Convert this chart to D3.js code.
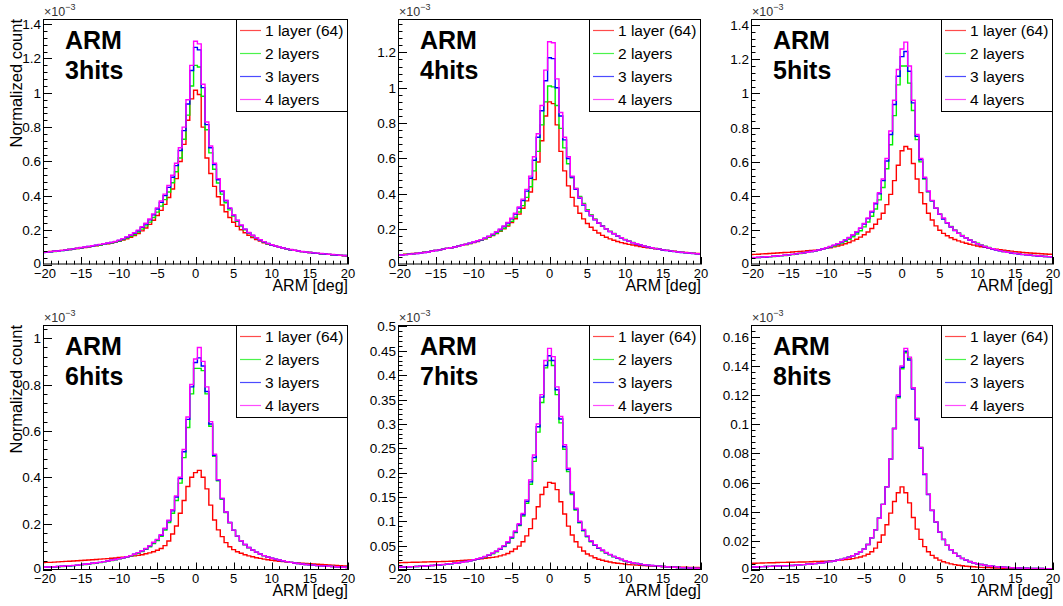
<!DOCTYPE html>
<html><head><meta charset="utf-8">
<script src="https://cdn.jsdelivr.net/npm/d3@7"></script>
<style>
body{margin:0;background:#fff}
svg{display:block}
text{font-family:"Liberation Sans",Arial,Helvetica,sans-serif}
</style></head>
<body><svg id="chart" width="1063" height="606"></svg>
<script>
// ---------- data (values in units of 1e-3, bin centres -20 ... 20, step 0.5) ----------
const binStart = -20, binStep = 0.5, binCount = 81;
const seriesNames = ["1 layer (64)", "2 layers", "3 layers", "4 layers"];
const panelLabels = ["3hits","4hits","5hits","6hits","7hits","8hits"];
const xTicks = [-20,-15,-10,-5,0,5,10,15,20];
const xTickLabels = ["\u221220","\u221215","\u221210","\u22125","0","5","10","15","20"];

const h3_l1 = [0.072,0.074,0.076,0.078,0.080,0.082,0.085,0.087,0.090,0.093,0.096,
0.099,0.102,0.106,0.109,0.113,0.117,0.121,0.125,0.130,0.135,
0.142,0.150,0.159,0.169,0.181,0.196,0.213,0.234,0.258,0.285,
0.315,0.350,0.390,0.440,0.500,0.600,0.700,0.840,0.965,1.015,
0.990,0.800,0.620,0.530,0.455,0.395,0.347,0.307,0.274,0.246,
0.222,0.202,0.185,0.170,0.157,0.146,0.136,0.127,0.119,0.112,
0.106,0.100,0.095,0.090,0.086,0.082,0.078,0.075,0.072,0.070,
0.067,0.065,0.063,0.061,0.059,0.057,0.055,0.053,0.051,0.049];
const h3_l2 = [0.071,0.072,0.074,0.076,0.078,0.081,0.084,0.087,0.090,0.093,0.097,
0.100,0.103,0.107,0.110,0.114,0.118,0.122,0.126,0.131,0.137,
0.145,0.154,0.164,0.175,0.189,0.206,0.225,0.247,0.274,0.305,
0.340,0.378,0.422,0.476,0.540,0.620,0.730,0.870,1.040,1.160,
1.150,0.980,0.785,0.650,0.555,0.475,0.410,0.360,0.318,0.282,
0.251,0.224,0.202,0.183,0.167,0.153,0.141,0.131,0.121,0.113,
0.106,0.100,0.095,0.090,0.086,0.082,0.078,0.075,0.072,0.070,
0.067,0.065,0.063,0.061,0.059,0.057,0.055,0.054,0.052,0.050];
const h3_l3 = [0.070,0.072,0.074,0.077,0.079,0.081,0.084,0.087,0.091,0.094,0.098,
0.101,0.105,0.108,0.112,0.116,0.120,0.124,0.128,0.133,0.140,
0.149,0.159,0.170,0.182,0.197,0.216,0.236,0.260,0.289,0.323,
0.362,0.401,0.449,0.508,0.576,0.664,0.780,0.935,1.130,1.265,
1.250,1.030,0.815,0.680,0.582,0.494,0.425,0.371,0.327,0.288,
0.256,0.228,0.205,0.185,0.169,0.155,0.143,0.132,0.122,0.114,
0.107,0.101,0.096,0.091,0.086,0.082,0.079,0.075,0.072,0.070,
0.067,0.065,0.063,0.061,0.059,0.057,0.055,0.053,0.052,0.050];
const h3_l4 = [0.071,0.073,0.075,0.077,0.079,0.082,0.085,0.088,0.091,0.095,0.099,
0.102,0.105,0.109,0.113,0.117,0.121,0.125,0.129,0.134,0.142,
0.151,0.161,0.172,0.185,0.200,0.220,0.240,0.265,0.295,0.330,
0.370,0.410,0.460,0.520,0.590,0.680,0.800,0.960,1.160,1.300,
1.285,1.050,0.830,0.690,0.590,0.500,0.430,0.375,0.330,0.290,
0.258,0.230,0.206,0.186,0.170,0.156,0.144,0.133,0.123,0.115,
0.108,0.102,0.096,0.091,0.087,0.083,0.079,0.076,0.073,0.070,
0.068,0.066,0.064,0.062,0.060,0.058,0.056,0.054,0.052,0.050];

const h4_l1 = [0.054,0.056,0.058,0.060,0.062,0.064,0.067,0.070,0.073,0.076,0.080,
0.083,0.087,0.091,0.095,0.099,0.103,0.108,0.113,0.118,0.124,
0.130,0.137,0.145,0.154,0.164,0.175,0.188,0.202,0.218,0.237,
0.259,0.285,0.318,0.360,0.410,0.480,0.580,0.700,0.840,0.920,
0.910,0.790,0.640,0.530,0.445,0.380,0.330,0.290,0.258,0.232,
0.211,0.193,0.178,0.165,0.154,0.145,0.137,0.130,0.124,0.119,
0.114,0.110,0.106,0.102,0.098,0.095,0.092,0.089,0.086,0.083,
0.080,0.077,0.075,0.072,0.070,0.068,0.066,0.064,0.062,0.060];
const h4_l2 = [0.053,0.055,0.057,0.059,0.061,0.063,0.066,0.069,0.072,0.075,0.079,
0.083,0.087,0.091,0.095,0.099,0.103,0.108,0.113,0.119,0.125,
0.131,0.138,0.146,0.155,0.165,0.177,0.190,0.205,0.223,0.244,
0.268,0.297,0.333,0.380,0.440,0.530,0.640,0.790,0.920,1.010,
1.005,0.900,0.770,0.660,0.570,0.490,0.430,0.385,0.345,0.310,
0.282,0.258,0.237,0.219,0.203,0.188,0.175,0.163,0.152,0.142,
0.133,0.125,0.118,0.111,0.105,0.100,0.095,0.091,0.087,0.083,
0.080,0.077,0.074,0.071,0.069,0.067,0.065,0.063,0.061,0.060];
const h4_l3 = [0.052,0.054,0.056,0.058,0.060,0.062,0.065,0.068,0.071,0.075,0.079,
0.083,0.087,0.091,0.095,0.099,0.104,0.109,0.114,0.120,0.126,
0.133,0.140,0.149,0.159,0.170,0.183,0.198,0.215,0.235,0.258,
0.286,0.320,0.362,0.415,0.488,0.590,0.720,0.870,1.040,1.170,
1.165,1.000,0.840,0.705,0.600,0.495,0.425,0.376,0.337,0.302,
0.276,0.253,0.233,0.216,0.200,0.186,0.173,0.161,0.150,0.140,
0.131,0.123,0.116,0.110,0.104,0.099,0.094,0.090,0.086,0.082,
0.079,0.076,0.073,0.071,0.068,0.066,0.064,0.062,0.060,0.058];
const h4_l4 = [0.052,0.054,0.056,0.058,0.060,0.062,0.065,0.068,0.071,0.075,0.079,
0.083,0.087,0.091,0.095,0.099,0.104,0.109,0.115,0.121,0.127,
0.134,0.141,0.150,0.160,0.172,0.185,0.200,0.218,0.238,0.262,
0.290,0.325,0.370,0.425,0.500,0.610,0.740,0.900,1.100,1.260,
1.255,1.050,0.860,0.720,0.610,0.500,0.430,0.380,0.340,0.305,
0.278,0.255,0.235,0.217,0.201,0.187,0.174,0.162,0.151,0.141,
0.132,0.124,0.117,0.111,0.105,0.100,0.095,0.091,0.087,0.083,
0.080,0.077,0.074,0.071,0.069,0.067,0.065,0.063,0.061,0.059];

const h5_l1 = [0.058,0.059,0.060,0.062,0.063,0.064,0.066,0.067,0.069,0.070,0.071,
0.073,0.075,0.076,0.078,0.080,0.082,0.084,0.087,0.090,0.094,
0.098,0.103,0.108,0.114,0.121,0.129,0.138,0.148,0.160,0.174,
0.190,0.210,0.235,0.265,0.300,0.350,0.410,0.490,0.580,0.665,
0.690,0.675,0.590,0.500,0.420,0.355,0.300,0.260,0.226,0.200,
0.182,0.168,0.156,0.146,0.138,0.131,0.124,0.118,0.113,0.108,
0.104,0.100,0.096,0.092,0.089,0.086,0.083,0.080,0.078,0.075,
0.073,0.071,0.069,0.067,0.066,0.064,0.063,0.061,0.060,0.059];
const h5_l2 = [0.039,0.040,0.041,0.042,0.044,0.045,0.047,0.049,0.051,0.053,0.055,
0.058,0.061,0.064,0.067,0.071,0.075,0.079,0.084,0.089,0.095,
0.101,0.108,0.116,0.125,0.136,0.148,0.162,0.178,0.197,0.220,
0.248,0.282,0.324,0.378,0.450,0.560,0.700,0.870,1.050,1.160,
1.160,1.060,0.900,0.730,0.600,0.500,0.425,0.372,0.330,0.296,
0.268,0.244,0.222,0.202,0.185,0.170,0.157,0.145,0.134,0.124,
0.115,0.107,0.099,0.093,0.087,0.081,0.076,0.072,0.068,0.065,
0.062,0.059,0.057,0.055,0.053,0.051,0.049,0.047,0.046,0.044];
const h5_l3 = [0.039,0.040,0.041,0.043,0.044,0.046,0.048,0.050,0.052,0.054,0.056,
0.059,0.062,0.065,0.068,0.072,0.076,0.080,0.085,0.091,0.097,
0.104,0.112,0.121,0.131,0.143,0.156,0.172,0.190,0.211,0.237,
0.268,0.307,0.355,0.413,0.490,0.605,0.760,0.935,1.100,1.215,
1.245,1.130,0.945,0.750,0.612,0.505,0.427,0.372,0.328,0.293,
0.266,0.242,0.219,0.199,0.182,0.167,0.154,0.142,0.131,0.121,
0.112,0.104,0.097,0.091,0.085,0.080,0.075,0.071,0.067,0.064,
0.061,0.058,0.056,0.054,0.052,0.050,0.048,0.047,0.045,0.044];
const h5_l4 = [0.040,0.041,0.042,0.043,0.045,0.046,0.048,0.050,0.052,0.054,0.056,
0.059,0.062,0.065,0.068,0.072,0.076,0.080,0.085,0.091,0.098,
0.105,0.113,0.122,0.132,0.144,0.158,0.174,0.192,0.213,0.240,
0.272,0.312,0.360,0.420,0.500,0.620,0.780,0.960,1.140,1.260,
1.300,1.160,0.960,0.760,0.620,0.510,0.430,0.375,0.330,0.295,
0.272,0.244,0.220,0.200,0.183,0.168,0.155,0.143,0.132,0.122,
0.113,0.105,0.098,0.092,0.086,0.081,0.076,0.072,0.068,0.065,
0.062,0.059,0.057,0.055,0.053,0.051,0.049,0.047,0.046,0.044];

const h6_l1 = [0.032,0.033,0.033,0.034,0.035,0.036,0.037,0.038,0.039,0.040,0.041,
0.042,0.043,0.044,0.045,0.047,0.048,0.049,0.051,0.052,0.054,
0.055,0.057,0.059,0.061,0.063,0.066,0.070,0.074,0.079,0.085,
0.093,0.105,0.125,0.155,0.190,0.245,0.300,0.360,0.400,0.420,
0.430,0.400,0.350,0.280,0.216,0.173,0.144,0.118,0.100,0.088,
0.079,0.072,0.066,0.061,0.057,0.053,0.050,0.047,0.044,0.042,
0.040,0.038,0.036,0.034,0.033,0.031,0.030,0.029,0.028,0.027,
0.026,0.025,0.024,0.023,0.022,0.021,0.020,0.019,0.018,0.017];
const h6_l2 = [0.012,0.012,0.013,0.013,0.014,0.015,0.016,0.017,0.019,0.020,0.022,
0.024,0.026,0.028,0.030,0.032,0.035,0.038,0.041,0.044,0.048,
0.052,0.056,0.060,0.066,0.072,0.080,0.089,0.100,0.114,0.127,
0.145,0.172,0.205,0.245,0.300,0.375,0.485,0.615,0.760,0.870,
0.870,0.860,0.760,0.620,0.490,0.385,0.305,0.248,0.204,0.171,
0.145,0.125,0.109,0.096,0.085,0.076,0.068,0.061,0.055,0.050,
0.046,0.042,0.039,0.036,0.033,0.030,0.028,0.026,0.024,0.022,
0.021,0.019,0.018,0.017,0.016,0.015,0.014,0.013,0.012,0.011];
const h6_l3 = [0.012,0.013,0.013,0.014,0.015,0.016,0.017,0.018,0.019,0.021,0.023,
0.025,0.027,0.029,0.031,0.033,0.036,0.039,0.042,0.045,0.049,
0.053,0.057,0.062,0.068,0.075,0.083,0.092,0.104,0.118,0.131,
0.150,0.178,0.212,0.255,0.315,0.395,0.510,0.650,0.790,0.895,
0.915,0.880,0.770,0.630,0.495,0.388,0.308,0.250,0.205,0.172,
0.146,0.126,0.110,0.097,0.086,0.077,0.069,0.062,0.056,0.051,
0.047,0.043,0.039,0.036,0.033,0.030,0.028,0.026,0.024,0.022,
0.021,0.019,0.018,0.017,0.016,0.015,0.014,0.013,0.012,0.011];
const h6_l4 = [0.012,0.013,0.013,0.014,0.015,0.016,0.017,0.019,0.020,0.021,0.023,
0.025,0.027,0.029,0.031,0.033,0.036,0.039,0.042,0.045,0.049,
0.053,0.057,0.062,0.068,0.075,0.083,0.093,0.105,0.120,0.132,
0.152,0.180,0.215,0.260,0.320,0.400,0.520,0.660,0.800,0.910,
0.960,0.900,0.790,0.640,0.500,0.390,0.310,0.250,0.205,0.172,
0.146,0.126,0.110,0.097,0.086,0.077,0.069,0.062,0.056,0.051,
0.047,0.043,0.040,0.036,0.033,0.030,0.028,0.026,0.024,0.022,
0.021,0.019,0.018,0.017,0.016,0.015,0.014,0.013,0.012,0.011];

const h7_l1 = [0.0150,0.0152,0.0154,0.0156,0.0158,0.0160,0.0162,0.0164,0.0166,0.0168,0.0170,
0.0172,0.0175,0.0178,0.0180,0.0185,0.0190,0.0195,0.0200,0.0205,0.0210,
0.0220,0.0230,0.0240,0.0250,0.0260,0.0270,0.0290,0.0310,0.0340,0.0380,
0.0430,0.0490,0.0580,0.0700,0.0850,0.1050,0.1300,0.1550,0.1700,0.1800,
0.1780,0.1650,0.1400,0.1150,0.0900,0.0720,0.0580,0.0470,0.0390,0.0330,
0.0290,0.0250,0.0220,0.0200,0.0180,0.0165,0.0150,0.0140,0.0130,0.0120,
0.0110,0.0105,0.0100,0.0095,0.0090,0.0085,0.0080,0.0077,0.0074,0.0071,
0.0068,0.0065,0.0062,0.0060,0.0058,0.0056,0.0054,0.0052,0.0050,0.0048];
const h7_l2 = [0.0057,0.0060,0.0063,0.0066,0.0069,0.0073,0.0077,0.0081,0.0086,0.0091,0.0097,
0.0103,0.0110,0.0118,0.0128,0.0138,0.0148,0.0158,0.0172,0.0187,0.0205,
0.0225,0.0245,0.0270,0.0300,0.0335,0.0375,0.0425,0.0480,0.0555,0.0650,
0.0770,0.0915,0.1110,0.1370,0.1760,0.2230,0.2830,0.3440,0.4150,0.4300,
0.4200,0.3600,0.3020,0.2480,0.2020,0.1550,0.1230,0.0970,0.0805,0.0680,
0.0580,0.0505,0.0445,0.0395,0.0350,0.0310,0.0272,0.0243,0.0215,0.0186,
0.0166,0.0147,0.0132,0.0118,0.0108,0.0098,0.0090,0.0083,0.0077,0.0071,
0.0065,0.0060,0.0055,0.0051,0.0047,0.0043,0.0040,0.0037,0.0034,0.0031];
const h7_l3 = [0.0057,0.0060,0.0063,0.0066,0.0069,0.0073,0.0077,0.0081,0.0086,0.0091,0.0097,
0.0104,0.0111,0.0119,0.0129,0.0139,0.0149,0.0159,0.0173,0.0188,0.0207,
0.0227,0.0247,0.0275,0.0305,0.0342,0.0382,0.0432,0.0490,0.0565,0.0665,
0.0785,0.0930,0.1135,0.1410,0.1810,0.2310,0.2940,0.3550,0.4200,0.4400,
0.4300,0.3700,0.3100,0.2530,0.2060,0.1580,0.1250,0.0985,0.0815,0.0690,
0.0590,0.0512,0.0452,0.0402,0.0355,0.0315,0.0276,0.0246,0.0217,0.0188,
0.0168,0.0148,0.0133,0.0119,0.0109,0.0099,0.0091,0.0084,0.0077,0.0071,
0.0065,0.0060,0.0055,0.0051,0.0047,0.0043,0.0040,0.0037,0.0034,0.0031];
const h7_l4 = [0.0058,0.0061,0.0064,0.0067,0.0070,0.0074,0.0078,0.0082,0.0087,0.0092,0.0098,
0.0105,0.0112,0.0120,0.0130,0.0140,0.0150,0.0160,0.0175,0.0190,0.0210,
0.0230,0.0250,0.0280,0.0310,0.0350,0.0390,0.0440,0.0500,0.0580,0.0680,
0.0800,0.0950,0.1160,0.1440,0.1850,0.2360,0.3000,0.3600,0.4300,0.4550,
0.4380,0.3760,0.3150,0.2570,0.2090,0.1600,0.1270,0.1000,0.0830,0.0700,
0.0600,0.0520,0.0460,0.0410,0.0360,0.0320,0.0280,0.0250,0.0220,0.0190,
0.0170,0.0150,0.0135,0.0120,0.0110,0.0100,0.0092,0.0085,0.0078,0.0072,
0.0066,0.0061,0.0056,0.0052,0.0048,0.0044,0.0041,0.0038,0.0035,0.0032];

const h8_l1 = [0.0045,0.0046,0.0047,0.0048,0.0049,0.0050,0.0050,0.0051,0.0052,0.0052,0.0053,
0.0053,0.0054,0.0055,0.0055,0.0056,0.0057,0.0058,0.0059,0.0060,0.0061,
0.0062,0.0064,0.0066,0.0068,0.0071,0.0074,0.0078,0.0083,0.0089,0.0097,
0.0108,0.0125,0.0150,0.0190,0.0240,0.0310,0.0390,0.0470,0.0530,0.0570,
0.0530,0.0460,0.0360,0.0280,0.0210,0.0160,0.0125,0.0100,0.0082,0.0068,
0.0057,0.0049,0.0042,0.0037,0.0033,0.0029,0.0026,0.0024,0.0022,0.0020,
0.0018,0.0017,0.0016,0.0015,0.0014,0.0013,0.0012,0.0011,0.0011,0.0010,
0.0010,0.0009,0.0009,0.0008,0.0008,0.0007,0.0007,0.0006,0.0006,0.0005];
const h8_l2 = [0.0020,0.0021,0.0022,0.0023,0.0024,0.0025,0.0026,0.0027,0.0028,0.0029,0.0030,
0.0031,0.0033,0.0035,0.0037,0.0039,0.0041,0.0044,0.0047,0.0050,0.0054,
0.0058,0.0062,0.0067,0.0073,0.0080,0.0088,0.0098,0.0110,0.0125,0.0145,
0.0175,0.0220,0.0275,0.0355,0.0450,0.0570,0.0760,0.0970,0.1180,0.1380,
0.1490,0.1450,0.1250,0.1040,0.0840,0.0660,0.0520,0.0410,0.0330,0.0260,
0.0210,0.0170,0.0140,0.0115,0.0095,0.0080,0.0068,0.0058,0.0050,0.0043,
0.0038,0.0033,0.0029,0.0026,0.0023,0.0021,0.0019,0.0017,0.0016,0.0015,
0.0014,0.0013,0.0012,0.0011,0.0011,0.0010,0.0010,0.0009,0.0009,0.0008];
const h8_l3 = [0.0020,0.0021,0.0022,0.0023,0.0024,0.0025,0.0026,0.0027,0.0028,0.0029,0.0030,
0.0031,0.0033,0.0035,0.0037,0.0039,0.0041,0.0044,0.0047,0.0050,0.0054,
0.0058,0.0062,0.0067,0.0073,0.0080,0.0088,0.0098,0.0110,0.0125,0.0145,
0.0175,0.0220,0.0275,0.0355,0.0450,0.0570,0.0760,0.0970,0.1190,0.1390,
0.1500,0.1440,0.1240,0.1030,0.0835,0.0655,0.0518,0.0408,0.0328,0.0259,
0.0209,0.0169,0.0139,0.0114,0.0094,0.0079,0.0067,0.0057,0.0049,0.0043,
0.0038,0.0033,0.0029,0.0026,0.0023,0.0021,0.0019,0.0017,0.0016,0.0015,
0.0014,0.0013,0.0012,0.0011,0.0011,0.0010,0.0010,0.0009,0.0009,0.0008];
const h8_l4 = [0.0020,0.0021,0.0022,0.0023,0.0024,0.0025,0.0026,0.0027,0.0028,0.0029,0.0030,
0.0031,0.0033,0.0035,0.0037,0.0039,0.0041,0.0044,0.0047,0.0050,0.0054,
0.0058,0.0062,0.0067,0.0073,0.0080,0.0088,0.0098,0.0110,0.0125,0.0145,
0.0175,0.0220,0.0275,0.0355,0.0450,0.0570,0.0760,0.0970,0.1200,0.1400,
0.1520,0.1460,0.1250,0.1040,0.0840,0.0660,0.0520,0.0410,0.0330,0.0260,
0.0210,0.0170,0.0140,0.0115,0.0095,0.0080,0.0068,0.0058,0.0050,0.0043,
0.0038,0.0033,0.0029,0.0026,0.0023,0.0021,0.0019,0.0017,0.0016,0.0015,
0.0014,0.0013,0.0012,0.0011,0.0011,0.0010,0.0010,0.0009,0.0009,0.0008];

const panelSeries = [
  [h3_l1,h3_l2,h3_l3,h3_l4],
  [h4_l1,h4_l2,h4_l3,h4_l4],
  [h5_l1,h5_l2,h5_l3,h5_l4],
  [h6_l1,h6_l2,h6_l3,h6_l4],
  [h7_l1,h7_l2,h7_l3,h7_l4],
  [h8_l1,h8_l2,h8_l3,h8_l4]
];
const panelYMax = [1.43, 1.389, 1.435, 1.057, 0.503, 0.168];
const panelYStep = [0.2, 0.2, 0.2, 0.2, 0.05, 0.02];

// ---------- layout / style ----------
const colors = ["#ff0000","#00ee00","#0000ff","#ff00ff"];
const frameLefts = [43, 398, 751], frameRights = [348, 701, 1053];
const frameTops = [19, 325], frameBottoms = [264.5, 570];

const svg = d3.select("#chart");
svg.append("rect").attr("width",1063).attr("height",606).attr("fill","#fff");

panelLabels.forEach((lab, p) => {
  const col = p % 3, row = Math.floor(p / 3);
  const L = frameLefts[col], R = frameRights[col], T = frameTops[row], B = frameBottoms[row];
  const x = d3.scaleLinear().domain([-20, 20]).range([L, R]);
  const y = d3.scaleLinear().domain([0, panelYMax[p]]).range([B, T]);
  const g = svg.append("g");

  const clipId = "clip" + p;
  svg.append("clipPath").attr("id", clipId).append("rect")
    .attr("x", L).attr("y", T).attr("width", R - L).attr("height", B - T);

  // histograms
  const line = d3.line().x(d => x(d[0])).y(d => y(d[1]));
  const hg = g.append("g").attr("clip-path", `url(#${clipId})`);
  panelSeries[p].forEach((vals, s) => {
    const pts = [];
    vals.forEach((v, k) => {
      const c = binStart + binStep * k;
      pts.push([c - binStep / 2, v], [c + binStep / 2, v]);
    });
    hg.append("path").attr("d", line(pts)).attr("fill", "none")
      .attr("stroke", colors[s]).attr("stroke-width", 1.4);
  });

  // frame
  g.append("rect").attr("x", L + 0.5).attr("y", T + 0.5)
    .attr("width", R - L - 1).attr("height", B - T - 1)
    .attr("fill", "none").attr("stroke", "#000").attr("stroke-width", 1);

  // x axis ticks (inside, pointing up)
  const xMinor = d3.range(-20, 20.001, 1);
  const xa = g.append("g");
  xMinor.forEach(v => {
    const major = xTicks.includes(v);
    const len = major ? 7.5 : 3.8;
    xa.append("line").attr("x1", Math.round(x(v)) + 0.5).attr("x2", Math.round(x(v)) + 0.5)
      .attr("y1", B).attr("y2", B - len).attr("stroke", "#000").attr("stroke-width", 1);
  });
  xTicks.forEach((v, i) => {
    xa.append("text").attr("x", x(v) + (i === 0 ? 2 : 0)).attr("y", B + 13).attr("text-anchor", "middle")
      .attr("font-size", 13).text(xTickLabels[i]);
  });
  xa.append("text").attr("x", R).attr("y", B + 26).attr("text-anchor", "end")
    .attr("font-size", 16).text("ARM [deg]");

  // y axis
  const step = panelYStep[p], minor = step / 5;
  const ya = g.append("g");
  const nMinor = Math.floor(panelYMax[p] / minor + 1e-6);
  for (let i = 0; i <= nMinor; i++) {
    const v = i * minor;
    const major = i % 5 === 0;
    const yy = Math.round(y(v)) + 0.5;
    ya.append("line").attr("x1", L).attr("x2", L + (major ? 9 : 4.5))
      .attr("y1", yy).attr("y2", yy).attr("stroke", "#000").attr("stroke-width", 1);
    if (major) {
      ya.append("text").attr("x", L - 2).attr("y", y(v) + (i === 0 ? 3 : 5)).attr("text-anchor", "end")
        .attr("font-size", 13.5).text(String(+v.toFixed(3)));
    }
  }
  // exponent
  const ex = ya.append("text").attr("x", L + 1).attr("y", T - 3).attr("font-size", 12.5).attr("fill", "#333");
  ex.append("tspan").text("\u00d710");
  ex.append("tspan").attr("dy", -6).attr("font-size", 9).text("\u22123");

  if (col === 0) {
    g.append("text").attr("transform", `translate(22,${T}) rotate(-90)`)
      .attr("text-anchor", "end").attr("font-size", 16.5).text("Normalized count");
  }

  // labels
  g.append("text").attr("x", L + 22).attr("y", T + 30).attr("font-size", 25)
    .attr("font-weight", "bold").text("ARM");
  g.append("text").attr("x", L + 22).attr("y", T + 60).attr("font-size", 25)
    .attr("font-weight", "bold").text(lab);

  // legend
  const lw = 112, lh = 92, lx = R - lw, ly = T;
  const lg = g.append("g");
  lg.append("rect").attr("x", lx + 0.5).attr("y", ly + 0.5).attr("width", lw - 1).attr("height", lh)
    .attr("fill", "#fff").attr("stroke", "#000").attr("stroke-width", 1);
  seriesNames.forEach((nm, s) => {
    const yy = ly + 11.5 + 23 * s;
    lg.append("line").attr("x1", lx + 4).attr("x2", lx + 25).attr("y1", yy).attr("y2", yy)
      .attr("stroke", colors[s]).attr("stroke-width", 1.2).attr("opacity", 0.7);
    lg.append("text").attr("x", lx + 29).attr("y", yy + 5.5).attr("font-size", 15.5).text(nm);
  });
});
</script></body></html>
